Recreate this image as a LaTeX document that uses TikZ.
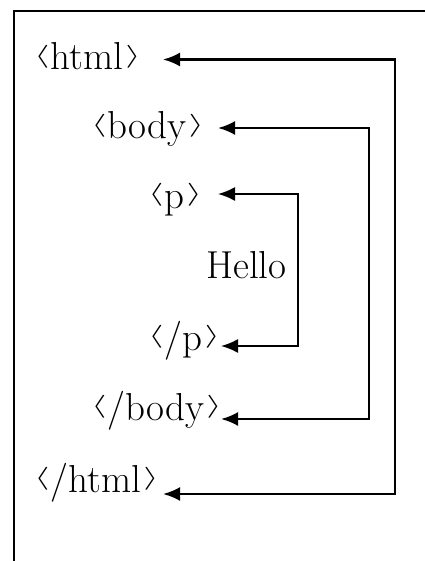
\documentclass[tikz,border=0pt]{standalone}
\usepackage{graphicx}
\usetikzlibrary{arrows.meta}
\newcommand{\lbr}{\raisebox{0.2em}{\scalebox{1.6}[0.92]{$\langle$}}}
\newcommand{\rbr}{\raisebox{0.2em}{\scalebox{1.6}[0.92]{$\rangle$}}}
\newcommand{\tagtext}[1]{\lbr\kern0.03em#1\kern0.05em\rbr}
\begin{document}
\begin{tikzpicture}[x=1pt,y=-1pt,
  tag/.style={anchor=base west,inner sep=0pt,font=\fontsize{39}{45}\selectfont},
  conn/.style={line width=2.4pt,{Latex[length=17pt,width=14pt]}-{Latex[length=17pt,width=14pt]}},
  connthin/.style={conn,line width=1.8pt}]
\useasboundingbox (0,0) rectangle (424,561);
\draw[line width=2pt] (14,570) -- (14,11.5) -- (430,11.5);
\node[tag] (ho) at (34,70) {\tagtext{html}};
\node[tag] (bo) at (91,139) {\tagtext{body}};
\node[tag] (po) at (148,208) {\tagtext{p}};
\node[tag] (hello) at (206,278) {Hello};
\node[tag] (pc) at (148,350) {\tagtext{/p}};
\node[tag] (bc) at (91,420) {\tagtext{/body}};
\node[tag] (hc) at (34,492) {\tagtext{/html}};
\coordinate (hoT) at (163,59.5);
\coordinate (hcT) at (163,494);
\coordinate (boT) at (218,128);
\coordinate (bcT) at (221,419);
\coordinate (poT) at (218,194);
\coordinate (pcT) at (221,346);
\draw[conn] (hoT) -- (395,59.5) -- (395,494) -- (hcT);
\draw[conn] (boT) -- (369,128) -- (369,419) -- (bcT);
\draw[connthin] (poT) -- (298,194) -- (298,346) -- (pcT);
\end{tikzpicture}
\end{document}
